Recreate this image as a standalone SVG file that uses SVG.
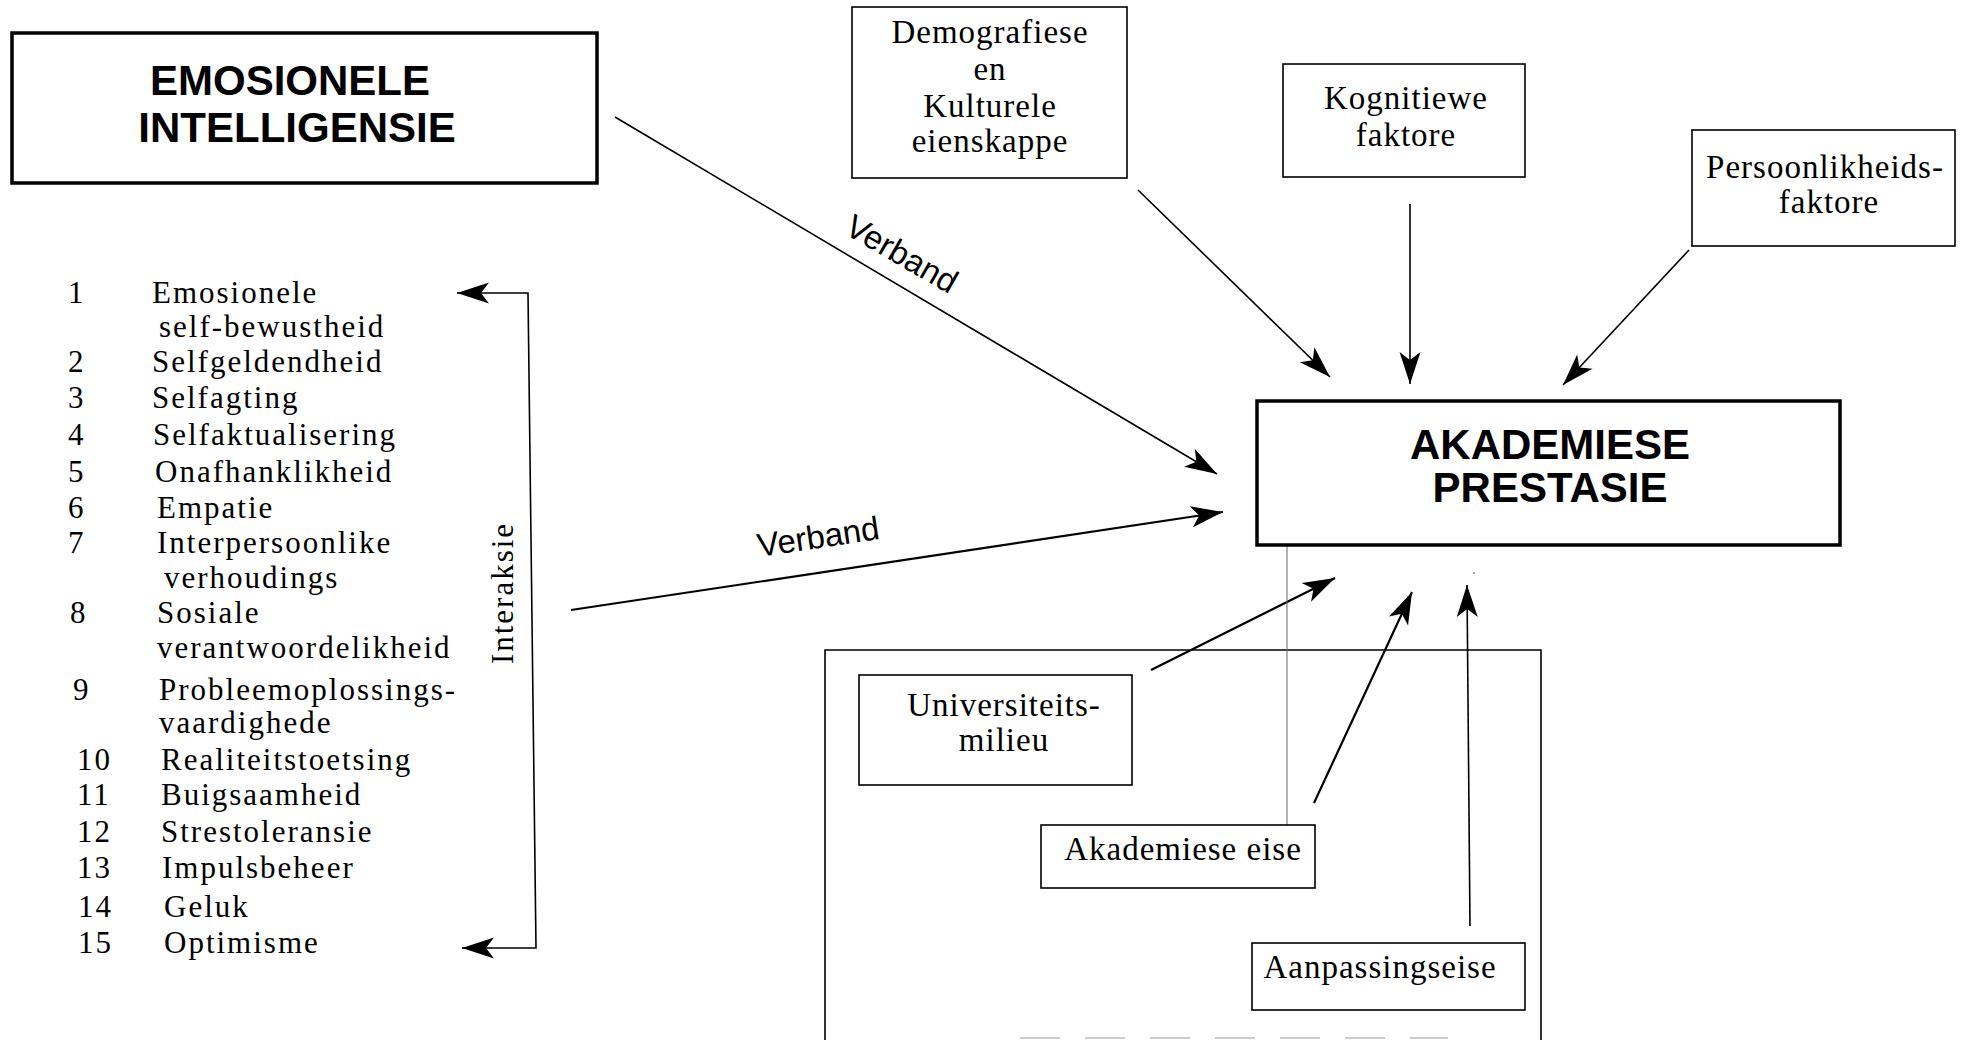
<svg xmlns="http://www.w3.org/2000/svg" width="1971" height="1040" viewBox="0 0 1971 1040">
<style>
.bg{fill:#fff}
.box{fill:#fff;stroke:#000;stroke-width:1.6}
.bbox{fill:#fff;stroke:#000;stroke-width:3.5}
.hd{font-family:"Liberation Sans",Arial,sans-serif;font-weight:bold;font-size:42px;fill:#000;text-anchor:middle}
.bt{font-family:"Liberation Serif","Times New Roman",serif;font-size:33px;letter-spacing:1px;fill:#000;text-anchor:middle}
.li{font-family:"Liberation Serif","Times New Roman",serif;font-size:31px;letter-spacing:2px;fill:#000}
.lb{font-family:"Liberation Sans",Arial,sans-serif;font-size:33px;fill:#000}
.c{fill:none;stroke:#000;stroke-width:1.6}
.c2{fill:none;stroke:#000;stroke-width:2.2}
.thin{fill:none;stroke:#666;stroke-width:1}
</style>
<defs>
<marker id="ah" viewBox="-34 -12 36 24" refX="0" refY="0" markerWidth="36" markerHeight="24" markerUnits="userSpaceOnUse" orient="auto">
<path d="M0,0 L-32,-10.5 L-24,0 L-32,10.5 Z" fill="#000"/>
</marker>
</defs>
<rect class="bg" x="0" y="0" width="1971" height="1040"/>

<g id="container">
<path class="c" d="M825,1040 V650 H1541 V1040"/>
<path d="M1020,1038 H1448" stroke="#ccc" stroke-width="2" stroke-dasharray="40,25" fill="none"/>
</g>

<g id="connectors">
<line class="c" x1="615" y1="117" x2="1217" y2="474" marker-end="url(#ah)"/>
<line class="c2" x1="571" y1="610" x2="1223" y2="512" marker-end="url(#ah)"/>
<line class="c" x1="1138" y1="190" x2="1330" y2="377" marker-end="url(#ah)"/>
<line class="c" x1="1410" y1="204" x2="1410" y2="384" marker-end="url(#ah)"/>
<line class="c" x1="1689" y1="250" x2="1563" y2="385" marker-end="url(#ah)"/>
<line class="c2" x1="1151" y1="670" x2="1335" y2="578" marker-end="url(#ah)"/>
<line class="c2" x1="1314" y1="803" x2="1412" y2="592" marker-end="url(#ah)"/>
<line class="c" x1="1470" y1="926" x2="1467" y2="585" marker-end="url(#ah)"/>
<line class="thin" x1="1287" y1="505" x2="1287" y2="825"/>
<path class="c" d="M490,293 H528 L536,948 H492"/>
<line class="c" x1="490" y1="293" x2="457" y2="293" marker-end="url(#ah)"/>
<line class="c" x1="492" y1="948" x2="462" y2="948" marker-end="url(#ah)"/>
<circle cx="1474" cy="573" r="1" fill="#888"/>
<text class="lb" transform="translate(843,233) rotate(30)">Verband</text>
<text class="lb" transform="translate(759,557) rotate(-8.5)">Verband</text>
<text class="li" transform="translate(513,593) rotate(-90)" text-anchor="middle">Interaksie</text>
</g>

<g id="emosionele">
<rect class="bbox" x="12" y="33" width="585" height="150"/>
<text class="hd" x="290" y="95">EMOSIONELE</text>
<text class="hd" x="297" y="142">INTELLIGENSIE</text>
</g>

<g id="list">
<text class="li" x="68" y="303">1</text><text class="li" x="152" y="303">Emosionele</text>
<text class="li" x="159" y="337">self-bewustheid</text>
<text class="li" x="68" y="372">2</text><text class="li" x="152" y="372">Selfgeldendheid</text>
<text class="li" x="68" y="408">3</text><text class="li" x="152" y="408">Selfagting</text>
<text class="li" x="68" y="445">4</text><text class="li" x="153" y="445">Selfaktualisering</text>
<text class="li" x="68" y="482">5</text><text class="li" x="155" y="482">Onafhanklikheid</text>
<text class="li" x="68" y="518">6</text><text class="li" x="157" y="518">Empatie</text>
<text class="li" x="68" y="553">7</text><text class="li" x="157" y="553">Interpersoonlike</text>
<text class="li" x="164" y="588">verhoudings</text>
<text class="li" x="70" y="623">8</text><text class="li" x="157" y="623">Sosiale</text>
<text class="li" x="157" y="658">verantwoordelikheid</text>
<text class="li" x="73" y="700">9</text><text class="li" x="159" y="700">Probleemoplossings-</text>
<text class="li" x="159" y="733">vaardighede</text>
<text class="li" x="77" y="770">10</text><text class="li" x="161" y="770">Realiteitstoetsing</text>
<text class="li" x="77" y="805">11</text><text class="li" x="161" y="805">Buigsaamheid</text>
<text class="li" x="77" y="842">12</text><text class="li" x="161" y="842">Strestoleransie</text>
<text class="li" x="77" y="878">13</text><text class="li" x="162" y="878">Impulsbeheer</text>
<text class="li" x="78" y="917">14</text><text class="li" x="164" y="917">Geluk</text>
<text class="li" x="78" y="953">15</text><text class="li" x="164" y="953">Optimisme</text>
</g>

<g id="demografiese">
<rect class="box" x="852" y="7" width="275" height="171"/>
<text class="bt" x="990" y="43">Demografiese</text>
<text class="bt" x="990" y="80">en</text>
<text class="bt" x="990" y="117">Kulturele</text>
<text class="bt" x="990" y="152">eienskappe</text>
</g>

<g id="kognitiewe">
<rect class="box" x="1283" y="64" width="242" height="113"/>
<text class="bt" x="1406" y="109">Kognitiewe</text>
<text class="bt" x="1406" y="146">faktore</text>
</g>

<g id="persoonlikheids">
<rect class="box" x="1692" y="130" width="263" height="116"/>
<text class="bt" x="1825" y="178">Persoonlikheids-</text>
<text class="bt" x="1829" y="213">faktore</text>
</g>

<g id="akademiese">
<rect class="bbox" x="1257" y="401" width="583" height="144"/>
<text class="hd" x="1550" y="459">AKADEMIESE</text>
<text class="hd" x="1550" y="502">PRESTASIE</text>
</g>

<g id="universiteits">
<rect class="box" x="859" y="675" width="273" height="110"/>
<text class="bt" x="1004" y="716">Universiteits-</text>
<text class="bt" x="1004" y="751">milieu</text>
</g>

<g id="akademiese-eise">
<rect class="box" x="1041" y="825" width="274" height="63"/>
<text class="bt" x="1183" y="860">Akademiese eise</text>
</g>

<g id="aanpassingseise">
<rect class="box" x="1252" y="943" width="273" height="67"/>
<text class="bt" x="1380" y="978">Aanpassingseise</text>
</g>
</svg>
